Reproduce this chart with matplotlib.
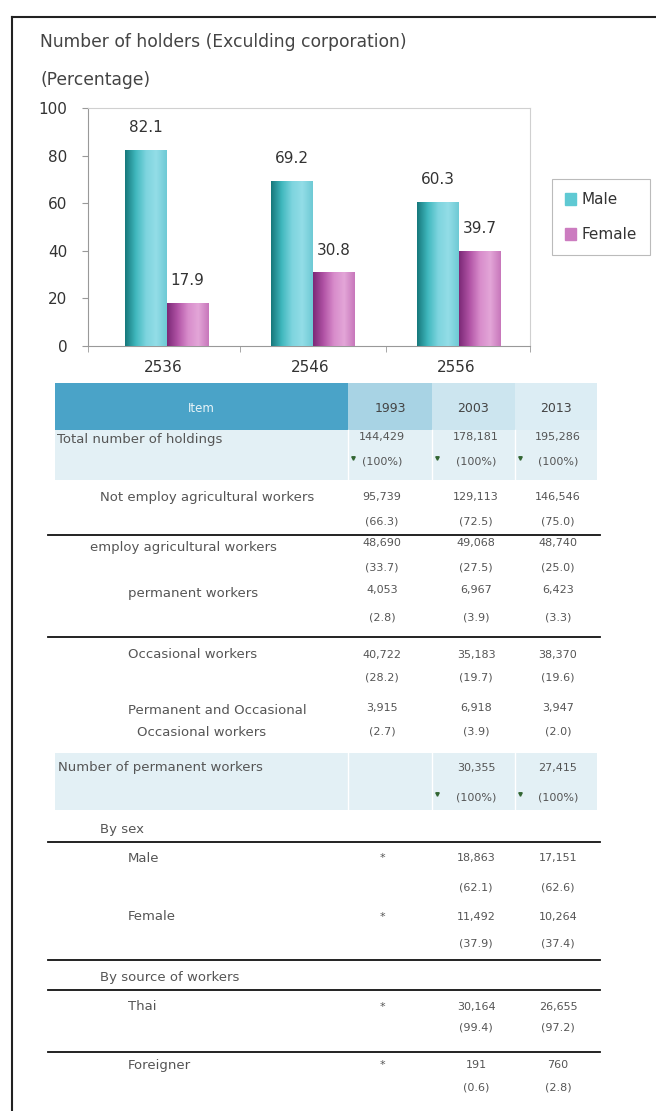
import numpy as np
import matplotlib.pyplot as plt
from matplotlib.colors import LinearSegmentedColormap
from matplotlib.patches import Rectangle, Patch

# chart data
years = ["2536", "2546", "2556"]
male = [82.1, 69.2, 60.3]
female = [17.9, 30.8, 39.7]

# table data
col_years = ["1993", "2003", "2013"]
row_labels = ["Total number of holdings",
              "Not employ agricultural workers",
              "employ agricultural workers",
              "permanent workers",
              "Occasional workers",
              "Permanent and Occasional",
              "Number of permanent workers",
              "By sex",
              "Male",
              "Female",
              "By source of workers",
              "Thai",
              "Foreigner"]
val_1993 = ["144,429", "95,739", "48,690", "4,053", "40,722", "3,915", "", "", "*", "*", "", "*", "*"]
pct_1993 = ["(100%)", "(66.3)", "(33.7)", "(2.8)", "(28.2)", "(2.7)", "", "", "", "", "", "", ""]
val_2003 = ["178,181", "129,113", "49,068", "6,967", "35,183", "6,918", "30,355", "", "18,863", "11,492", "", "30,164", "191"]
pct_2003 = ["(100%)", "(72.5)", "(27.5)", "(3.9)", "(19.7)", "(3.9)", "(100%)", "", "(62.1)", "(37.9)", "", "(99.4)", "(0.6)"]
val_2013 = ["195,286", "146,546", "48,740", "6,423", "38,370", "3,947", "27,415", "", "17,151", "10,264", "", "26,655", "760"]
pct_2013 = ["(100%)", "(75.0)", "(25.0)", "(3.3)", "(19.6)", "(2.0)", "(100%)", "", "(62.6)", "(37.4)", "", "(97.2)", "(2.8)"]

# layout of the table (pixels)
row_x = [57, 100, 90, 128, 128, 128, 58, 100, 128, 128, 100, 128, 128]
row_y = [440, 497, 548, 593, 655, 710, 768, 830, 858, 917, 977, 1007, 1065]
num_y = [437, 497, 543, 590, 655, 708, 768, 830, 858, 917, 977, 1007, 1065]
pct_y = [462, 522, 567, 617, 678, 732, 798, 830, 887, 943, 977, 1027, 1087]
col_x = [382, 476, 558]
col_edges = [55, 348, 432, 515, 597]
rule_y = [535, 637, 842, 960, 990, 1052]

W, H = 656, 1111
fig = plt.figure(figsize=(W / 100, H / 100), dpi=100)

bg = fig.add_axes([0, 0, 1, 1])
bg.set_xlim(0, W)
bg.set_ylim(H, 0)
bg.axis("off")

# outer frame
bg.plot([12, W], [17, 17], color="#222222", lw=1.5)
bg.plot([12, 12], [17, H], color="#222222", lw=1.5)

fig.text(40 / W, 1 - 42 / H, "Number of holders (Exculding corporation)",
         fontsize=12.3, color="#444444", va="center")
fig.text(40 / W, 1 - 80 / H, "(Percentage)", fontsize=12.3, color="#444444", va="center")

# ---- bar chart
ax = fig.add_axes([88 / W, 1 - 346 / H, 442 / W, 238 / H])
ax.set_facecolor("none")
x = np.arange(len(years))
w = 0.287

cm_m = LinearSegmentedColormap.from_list("m", ["#17797c", "#3fb7bd", "#7dd4de", "#93dde7", "#6fcad5"])
cm_f = LinearSegmentedColormap.from_list("f", ["#7d2a78", "#b153a5", "#d88ccb", "#e3a6d8", "#c877bb"])
grad = np.linspace(0, 1, 64).reshape(1, -1)

b1 = ax.bar(x - w / 2, male, w, color="#5fc9d3", label="Male")
b2 = ax.bar(x + w / 2, female, w, color="#cc7cc0", label="Female")
for bars, cm in [(b1, cm_m), (b2, cm_f)]:
    for b in bars:
        x0, y0 = b.get_x(), b.get_y()
        ax.imshow(grad, cmap=cm, aspect="auto", zorder=3,
                  extent=[x0, x0 + b.get_width(), y0, y0 + b.get_height()])

for i in range(len(years)):
    ax.text(x[i] - w / 2, male[i] + 9.5, f"{male[i]:.1f}", ha="center", va="center",
            fontsize=11, color="#333333")
    ax.text(x[i] + w / 2, female[i] + 9.5, f"{female[i]:.1f}", ha="center", va="center",
            fontsize=11, color="#333333")

ax.set_xlim(-0.537, 2.485)
ax.set_ylim(0, 100)
ax.set_yticks([0, 20, 40, 60, 80, 100])
ax.set_xticks(x - 0.02)
ax.set_xticklabels(years)
ax.set_xticks([-0.537, 0.5, 1.5, 2.485], minor=True)
ax.tick_params(axis="x", which="major", length=0, pad=10, labelsize=11, labelcolor="#333333")
ax.tick_params(axis="x", which="minor", length=4, color="#999999")
ax.tick_params(axis="y", length=4, color="#999999", pad=11, labelsize=11, labelcolor="#333333")
for s in ["top", "right"]:
    ax.spines[s].set_color("#d0d0d0")
for s in ["left", "bottom"]:
    ax.spines[s].set_color("#999999")

leg = ax.legend(handles=[Patch(color="#5fc9d3", label="Male"), Patch(color="#cc7cc0", label="Female")],
                loc="upper left", bbox_to_anchor=(1.05, 0.70), borderaxespad=0,
                fontsize=11, frameon=True, fancybox=False, handlelength=0.7, handleheight=0.9,
                handletextpad=0.4, labelspacing=1.3, borderpad=0.85)
leg.get_frame().set_edgecolor("#aaaaaa")
leg.get_frame().set_linewidth(0.8)
for t in leg.get_texts():
    t.set_color("#333333")

# ---- table
head_cols = ["#4aa3c8", "#a8d3e4", "#cce5ef", "#dcedf4"]
for j in range(4):
    bg.add_patch(Rectangle((col_edges[j], 383), col_edges[j + 1] - col_edges[j], 47,
                           facecolor=head_cols[j], edgecolor="none"))
bg.text((col_edges[0] + col_edges[1]) / 2, 408, "Item", ha="center", va="center",
        fontsize=8.5, color="#e8f4f8")
for j, yr in enumerate(col_years):
    bg.text((col_edges[j + 1] + col_edges[j + 2]) / 2, 408, yr, ha="center", va="center",
            fontsize=9, color="#444444")

# shaded rows
for y0, y1 in [(430, 480), (753, 810)]:
    bg.add_patch(Rectangle((col_edges[0], y0), col_edges[-1] - col_edges[0], y1 - y0,
                           facecolor="#e3f0f5", edgecolor="none"))
    for e in col_edges[1:-1]:
        bg.plot([e, e], [y0, y1], color="white", lw=1)

for ry in rule_y:
    bg.plot([48, 600], [ry, ry], color="#111111", lw=1.3)

tcol = "#555555"
for i, lab in enumerate(row_labels):
    bg.text(row_x[i], row_y[i], lab, ha="left", va="center", fontsize=9.5, color=tcol)
bg.text(137, 732, "Occasional workers", ha="left", va="center", fontsize=9.5, color=tcol)

for j, (vals, pcts) in enumerate([(val_1993, pct_1993), (val_2003, pct_2003), (val_2013, pct_2013)]):
    for i in range(len(row_labels)):
        if vals[i]:
            bg.text(col_x[j], num_y[i], vals[i], ha="center", va="center", fontsize=8, color=tcol)
        if pcts[i]:
            bg.text(col_x[j], pct_y[i], pcts[i], ha="center", va="center", fontsize=8, color=tcol)
        if pcts[i] == "(100%)":
            bg.plot(col_edges[j + 1] + 5, pct_y[i] - 4, marker="v", ms=2.5, color="#336633")

fig.savefig("out.png", dpi=100)
